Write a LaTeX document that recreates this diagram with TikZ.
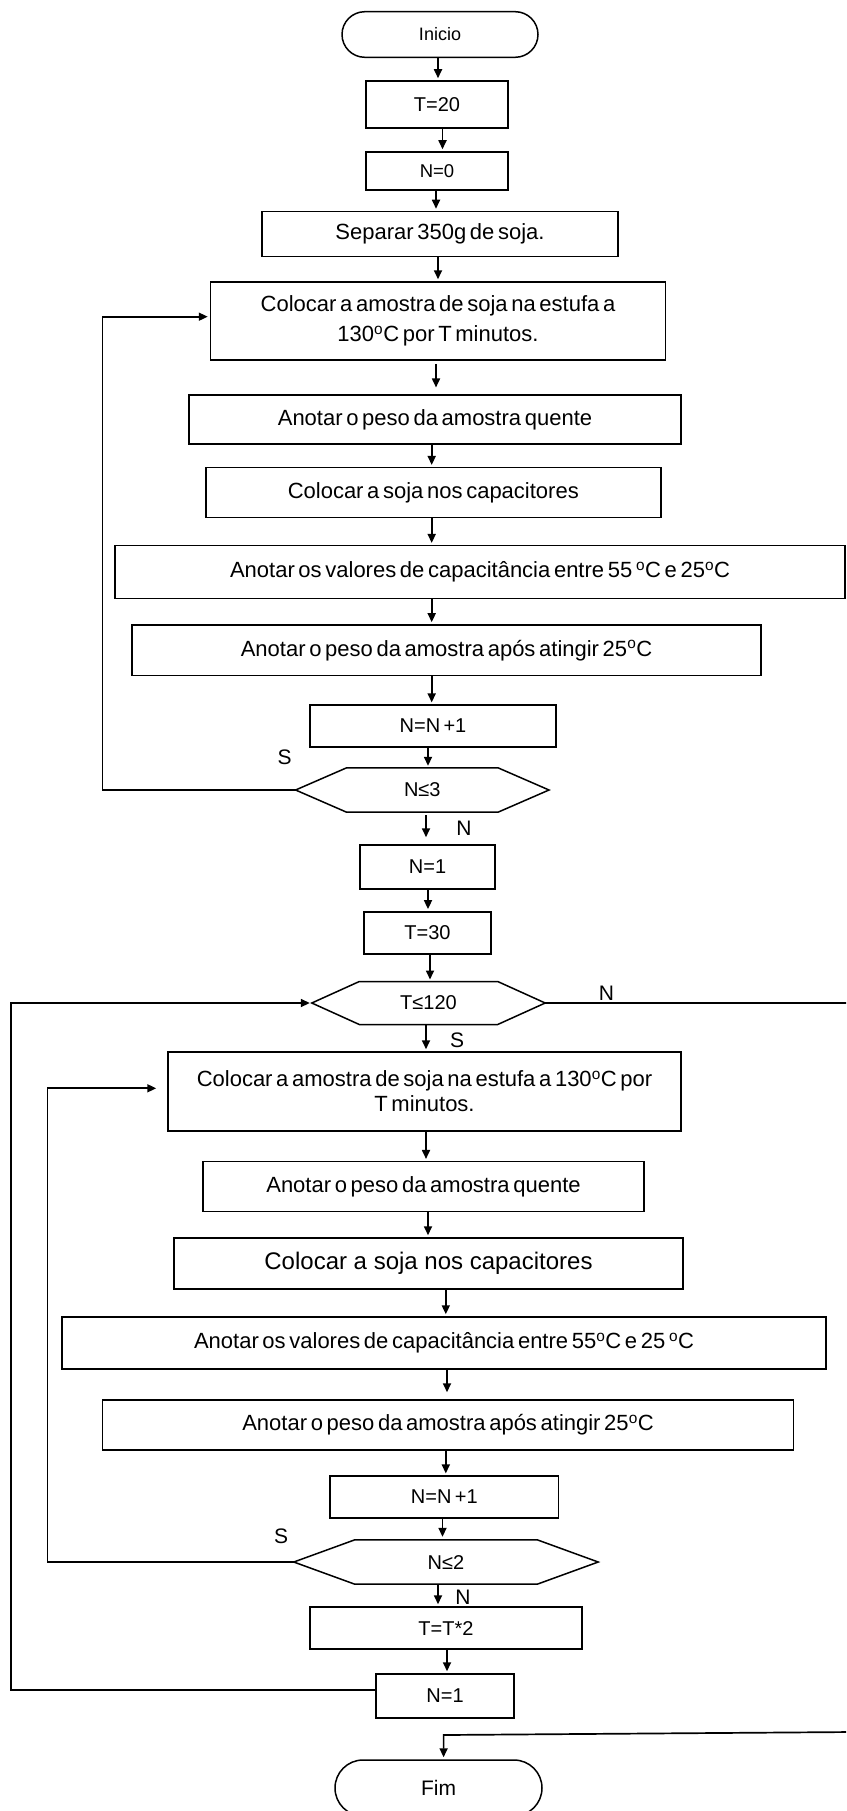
\documentclass[tikz,border=0pt]{standalone}
\usepackage{fontspec}
\setmainfont{Liberation Sans}[WordSpace=0.6]
\newfontfamily\normsp{Liberation Sans}
\usetikzlibrary{arrows.meta,calc}
\newcommand\hexa[2]{\draw[hexline] (#1.west) -- ([xshift=#2]#1.north west) -- ([xshift=-#2]#1.north east) -- (#1.east) -- ([xshift=-#2]#1.south east) -- ([xshift=#2]#1.south west) -- cycle;}
\newcommand\varr[4][]{\draw[arr,#1] ($(#2.south)+(#4,0)$) -- ($(#2.south |- #3.north)+(#4,0)$);}
\begin{document}
\begin{tikzpicture}[x=1pt,y=-1pt,
  box/.style={draw, line width=1.5pt, inner sep=0pt, align=center, font=\fontsize{22}{30}\selectfont},
  small/.style={font=\fontsize{20}{24}\selectfont},
  term/.style={draw, line width=1.5pt, inner sep=0pt, align=center},
  dec/.style={inner sep=0pt, align=center, font=\fontsize{20}{24}\selectfont},
  hexline/.style={line width=1.5pt, line join=miter},
  arr/.style={line width=1.7pt, -{Triangle[length=9pt,width=8pt]}, shorten >=2pt},
  lbl/.style={inner sep=0pt, font=\fontsize{21}{24}\selectfont}]
\useasboundingbox (0,0) rectangle (846,1811);
\clip (0,0) rectangle (846,1811);
\fill[white] (0,0) rectangle (846,1811);

% ---- first part
\node[term, minimum width=196pt, minimum height=45.6pt, rounded corners=22.8pt, font=\fontsize{18}{22}\selectfont] (ini) at (440,34.5) {Inicio};
\node[box, small, minimum width=142pt, minimum height=47pt] (t20) at (437,104.5) {T=20};
\node[box, minimum width=142pt, minimum height=38pt, font=\fontsize{18.5}{22}\selectfont] (n0) at (437,171) {N=0};
\node[box, minimum width=356pt, minimum height=45pt] (sep) at (440,234) {Separar 350g de soja.};
\node[box, minimum width=455pt, minimum height=78pt] (c1) at (438,321) {Colocar a amostra de soja na estufa a\\130\textsuperscript{o}C por T minutos.};
\node[box, minimum width=492pt, minimum height=49pt] (q1) at (435,419.7) {Anotar o peso da amostra quente};
\node[box, minimum width=455pt, minimum height=50pt] (k1) at (433.3,492.7) {Colocar a soja nos capacitores};
\node[box, minimum width=730pt, minimum height=52.6pt] (v1) at (480,572) {Anotar os valores de capacitância entre 55 \textsuperscript{o}C e 25\textsuperscript{o}C};
\node[box, minimum width=629pt, minimum height=50.7pt] (a1) at (446.5,650.3) {Anotar o peso da amostra após atingir 25\textsuperscript{o}C};
\node[box, small, minimum width=246pt, minimum height=41.7pt] (nn1) at (433,726) {N=N +1};
\node[dec, minimum width=253pt, minimum height=44pt] (d3) at (422.3,790) {N≤3};
\hexa{d3}{51pt}
\node[box, small, minimum width=135pt, minimum height=44pt] (n1a) at (427.5,867) {N=1};
\node[box, small, minimum width=127pt, minimum height=42.3pt] (t30) at (427.5,933) {T=30};
\node[dec, minimum width=233pt, minimum height=42.6pt] (d120) at (428.5,1003) {T≤120};
\hexa{d120}{47.5pt}

% ---- second part
\node[box, minimum width=513pt, minimum height=79pt, font=\fontsize{22}{25}\selectfont] (c2) at (424.5,1091.5) {Colocar a amostra de soja na estufa a 130\textsuperscript{o}C por\\T minutos.};
\node[box, minimum width=441pt, minimum height=50pt] (q2) at (423.5,1186.7) {Anotar o peso da amostra quente};
\node[box, minimum width=509pt, minimum height=51pt, font=\normsp\fontsize{24}{28}\selectfont] (k2) at (428.5,1263.5) {Colocar a soja nos capacitores};
\node[box, minimum width=764pt, minimum height=52pt] (v2) at (444,1343) {Anotar os valores de capacitância entre 55\textsuperscript{o}C e 25 \textsuperscript{o}C};
\node[box, minimum width=691pt, minimum height=50pt] (a2) at (448,1425) {Anotar o peso da amostra após atingir 25\textsuperscript{o}C};
\node[box, small, minimum width=228.6pt, minimum height=41.7pt] (nn2) at (444.3,1497) {N=N +1};
\node[dec, minimum width=304pt, minimum height=44pt] (d2) at (446,1562) {N≤2};
\hexa{d2}{61pt}
\node[box, small, minimum width=272pt, minimum height=42pt] (tt2) at (446,1628) {T=T*2};
\node[box, small, minimum width=138pt, minimum height=44pt] (n1b) at (445,1696) {N=1};
\node[term, minimum width=207pt, minimum height=56pt, rounded corners=28pt, font=\fontsize{21}{24}\selectfont] (fim) at (438.5,1788) {Fim};

% ---- labels
\node[lbl] (s3) at (284.5,757.5) {S};
\node[lbl] (no3) at (464,828) {N};
\node[lbl] (no120) at (606.5,993.5) {N};
\node[lbl] (s120) at (457,1040.5) {S};
\node[lbl] (s2) at (281,1536) {S};
\node[lbl] (no2) at (463,1597.5) {N};

% ---- straight arrows
\varr{ini}{t20}{-2}
\varr{t20}{n0}{5.5}
\varr{n0}{sep}{-1}
\varr{sep}{c1}{-2}
\varr[shorten <=3pt, shorten >=7pt]{c1}{q1}{-2}
\varr{q1}{k1}{-3.3}
\varr{k1}{v1}{-1.6}
\varr{v1}{a1}{-48.3}
\varr{a1}{nn1}{-14.8}
\varr{nn1}{d3}{-5}
\varr[shorten <=3pt, shorten >=7pt]{d3}{n1a}{3.7}
\varr{n1a}{t30}{0.5}
\varr{t30}{d120}{2.5}
\varr{d120}{c2}{-2.5}
\varr{c2}{q2}{1.5}
\varr{q2}{k2}{4.5}
\varr{k2}{v2}{17.3}
\varr[shorten >=7pt]{v2}{a2}{3}
\varr{a2}{nn2}{-2.2}
\varr[shorten >=3pt]{nn2}{d2}{-1.8}
\varr{d2}{tt2}{-8}
\varr{tt2}{n1b}{1}

% ---- loops
\coordinate (lp1) at (102.5,0);
\coordinate (lp2) at (11,0);
\coordinate (lp3) at (47.5,0);
\coordinate (rp) at (852,0);
\coordinate (c1w) at ([yshift=4.3pt]c1.west);
\coordinate (c2w) at ([yshift=3.2pt]c2.west);
\coordinate (n1bw) at ([yshift=6pt]n1b.west);
\coordinate (fr) at (852,1732);
\coordinate (fj) at (443.6,1735);

\draw[arr, line join=miter] (d3.west) -- (d3.west -| lp1) |- (c1w);
\draw[arr, line join=miter] (n1bw) -- (n1bw -| lp2) |- (d120.west);
\draw[arr, line join=miter, shorten >=11pt] (d2.west) -- (d2.west -| lp3) |- (c2w);
\draw[arr, line join=miter] (d120.east) -- (d120.east -| rp) -- (fr) -- (fj) -- (fj |- fim.north);
\end{tikzpicture}
\end{document}
